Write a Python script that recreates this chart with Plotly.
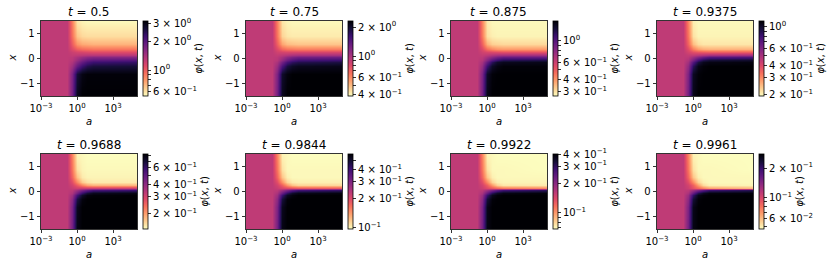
import numpy as np
import plotly.graph_objects as go

W, H = 831, 267

# ---------------- data ----------------
times = ["0.5", "0.75", "0.875", "0.9375", "0.9688", "0.9844", "0.9922", "0.9961"]

# grid nodes: log10(a) columns and x rows
log10_a = [-3, -0.8, -0.4, 0.0, 0.4, 0.8, 1.3, 5]
x_nodes = [-1.5, -0.6, -0.3, -0.15, -0.05, 0.05, 0.15, 0.25, 0.4, 0.6, 0.9, 1.5]

# colour-bar limits of phi for each panel
phi_min = [0.54, 0.385, 0.268, 0.192, 0.137, 0.097, 0.068, 0.047]
phi_max = [3.22, 2.31, 1.61, 1.15, 0.83, 0.585, 0.40, 0.279]

# phi levels (0 = colour-bar bottom, 100 = top, log scale), rows follow x_nodes
level_t1 = [
    [48, 48, 66, 95, 100, 100, 100, 100],
    [48, 48, 64, 90, 97, 99, 99, 99],
    [48, 48, 56, 70, 80, 86, 89, 90],
    [48, 48, 52, 62, 70, 76, 80, 82],
    [48, 48, 50, 57, 64, 69, 72, 74],
    [48, 48, 49, 53, 57, 60, 62, 62],
    [48, 48, 47, 48, 49, 50, 50, 50],
    [48, 48, 45, 43, 42, 41, 40, 40],
    [48, 48, 40, 34, 31, 30, 29, 29],
    [48, 48, 35, 22, 18, 17, 16, 16],
    [48, 48, 30, 12, 8, 7, 7, 7],
    [48, 48, 27, 5, 2, 1, 1, 1],
]
level_t2 = [
    [48, 48, 66, 95, 100, 100, 100, 100],
    [48, 48, 64, 92, 98, 100, 100, 100],
    [48, 48, 57, 76, 88, 93, 95, 96],
    [48, 48, 53, 66, 77, 83, 86, 88],
    [48, 48, 50, 59, 68, 74, 78, 80],
    [48, 48, 49, 54, 60, 64, 67, 68],
    [48, 48, 47, 49, 51, 53, 54, 54],
    [48, 48, 44, 43, 42, 42, 42, 42],
    [48, 48, 40, 32, 29, 28, 27, 27],
    [48, 48, 34, 19, 14, 13, 12, 12],
    [48, 48, 29, 9, 5, 4, 4, 4],
    [48, 48, 27, 5, 2, 1, 1, 1],
]
level_t3 = [
    [48, 48, 66, 96, 100, 100, 100, 100],
    [48, 48, 64, 93, 99, 100, 100, 100],
    [48, 48, 58, 80, 93, 97, 99, 99],
    [48, 48, 54, 70, 84, 92, 95, 96],
    [48, 48, 51, 62, 73, 80, 85, 87],
    [48, 48, 49, 55, 61, 66, 70, 70],
    [48, 48, 47, 49, 52, 54, 55, 55],
    [48, 48, 44, 42, 41, 40, 39, 38],
    [48, 48, 40, 30, 25, 22, 21, 21],
    [48, 48, 34, 16, 10, 9, 8, 8],
    [48, 48, 28, 6, 3, 2, 2, 2],
    [48, 48, 26, 4, 1, 1, 1, 1],
]
level_t4 = [
    [48, 48, 66, 96, 100, 100, 100, 100],
    [48, 48, 64, 94, 99, 100, 100, 100],
    [48, 48, 59, 84, 96, 99, 100, 100],
    [48, 48, 55, 74, 88, 95, 97, 98],
    [48, 48, 52, 65, 78, 86, 90, 92],
    [48, 48, 49, 56, 63, 69, 74, 76],
    [48, 48, 47, 48, 50, 52, 54, 55],
    [48, 48, 43, 39, 37, 36, 35, 35],
    [48, 48, 39, 27, 20, 17, 16, 16],
    [48, 48, 33, 14, 7, 5, 5, 5],
    [48, 48, 29, 6, 2, 2, 2, 2],
    [48, 48, 26, 3, 1, 1, 1, 1],
]
level_t5 = [
    [48, 48, 66, 97, 100, 100, 100, 100],
    [48, 48, 64, 95, 100, 100, 100, 100],
    [48, 48, 60, 88, 98, 100, 100, 100],
    [48, 48, 56, 78, 92, 98, 99, 100],
    [48, 48, 52, 67, 81, 90, 95, 97],
    [48, 48, 49, 56, 64, 71, 77, 80],
    [48, 48, 46, 44, 45, 45, 45, 45],
    [48, 48, 43, 35, 26, 19, 16, 15],
    [48, 48, 39, 24, 11, 6, 4, 4],
    [48, 48, 33, 13, 4, 2, 2, 2],
    [48, 48, 29, 6, 2, 1, 1, 1],
    [48, 48, 26, 2, 1, 0, 0, 0],
]
level_t6 = [
    [48, 48, 66, 97, 100, 100, 100, 100],
    [48, 48, 64, 95, 100, 100, 100, 100],
    [48, 48, 60, 89, 99, 100, 100, 100],
    [48, 48, 56, 80, 94, 98, 100, 100],
    [48, 48, 53, 69, 83, 92, 96, 98],
    [48, 48, 49, 56, 64, 72, 78, 82],
    [48, 48, 46, 42, 40, 38, 36, 35],
    [48, 48, 43, 34, 22, 13, 9, 8],
    [48, 48, 39, 23, 9, 4, 3, 3],
    [48, 48, 33, 12, 3, 1, 1, 1],
    [48, 48, 29, 6, 1, 1, 1, 1],
    [48, 48, 26, 2, 1, 0, 0, 0],
]
level_t7 = [
    [48, 48, 66, 97, 100, 100, 100, 100],
    [48, 48, 64, 96, 100, 100, 100, 100],
    [48, 48, 60, 90, 99, 100, 100, 100],
    [48, 48, 57, 81, 95, 99, 100, 100],
    [48, 48, 53, 70, 85, 93, 97, 99],
    [48, 48, 49, 56, 64, 72, 79, 84],
    [48, 48, 45, 40, 36, 32, 28, 25],
    [48, 48, 43, 34, 21, 10, 5, 4],
    [48, 48, 39, 24, 9, 3, 2, 2],
    [48, 48, 33, 12, 3, 1, 1, 1],
    [48, 48, 29, 6, 1, 1, 1, 0],
    [48, 48, 26, 2, 1, 0, 0, 0],
]
level_t8 = [
    [48, 48, 66, 97, 100, 100, 100, 100],
    [48, 48, 64, 96, 100, 100, 100, 100],
    [48, 48, 60, 90, 99, 100, 100, 100],
    [48, 48, 57, 82, 96, 99, 100, 100],
    [48, 48, 53, 70, 86, 94, 98, 99],
    [48, 48, 49, 56, 64, 72, 80, 85],
    [48, 48, 45, 38, 32, 26, 20, 15],
    [48, 48, 43, 34, 20, 8, 3, 2],
    [48, 48, 39, 24, 9, 3, 1, 1],
    [48, 48, 33, 12, 3, 1, 1, 1],
    [48, 48, 29, 6, 1, 1, 1, 0],
    [48, 48, 26, 2, 1, 0, 0, 0],
]
levels = [level_t1, level_t2, level_t3, level_t4, level_t5, level_t6, level_t7, level_t8]

# colour-bar ticks (value, label); empty label = minor tick
cb_ticks = [
    [0.6, 0.7, 0.8, 0.9, 1, 2, 3],
    [0.4, 0.5, 0.6, 0.7, 0.8, 0.9, 1, 2],
    [0.3, 0.4, 0.5, 0.6, 0.7, 0.8, 0.9, 1],
    [0.2, 0.3, 0.4, 0.5, 0.6, 0.7, 0.8, 0.9, 1],
    [0.2, 0.3, 0.4, 0.5, 0.6, 0.7, 0.8],
    [0.1, 0.2, 0.3, 0.4, 0.5],
    [0.07, 0.08, 0.09, 0.1, 0.2, 0.3, 0.4],
    [0.05, 0.06, 0.07, 0.08, 0.09, 0.1, 0.2],
]
M1 = "<sup>−1</sup>"
M2 = "<sup>−2</sup>"
P0 = "<sup>0</sup>"
cb_labels = [
    ["6 × 10" + M1, "", "", "", "10" + P0, "2 × 10" + P0, "3 × 10" + P0],
    ["4 × 10" + M1, "", "6 × 10" + M1, "", "", "", "10" + P0, "2 × 10" + P0],
    ["3 × 10" + M1, "4 × 10" + M1, "", "6 × 10" + M1, "", "", "", "10" + P0],
    ["2 × 10" + M1, "3 × 10" + M1, "4 × 10" + M1, "", "6 × 10" + M1, "", "", "", "10" + P0],
    ["2 × 10" + M1, "3 × 10" + M1, "4 × 10" + M1, "", "6 × 10" + M1, "", ""],
    ["10" + M1, "2 × 10" + M1, "3 × 10" + M1, "4 × 10" + M1, ""],
    ["", "", "", "10" + M1, "2 × 10" + M1, "3 × 10" + M1, "4 × 10" + M1],
    ["", "6 × 10" + M2, "", "", "", "10" + M1, "2 × 10" + M1],
]

a_tickvals = [-3, 0, 3]
a_ticktext = ["10<sup>−3</sup>", "10<sup>0</sup>", "10<sup>3</sup>"]
x_tickvals = [-1, 0, 1]
x_ticktext = ["−1", "0", "1"]

# ---------------- styling ----------------
magma = ["#000004", "#140e36", "#3b0f70", "#641a80", "#8c2981", "#b73779",
         "#de4968", "#f7705c", "#fe9f6d", "#fecf92", "#fcfdbf"]
magma_r = [[i / 10, c] for i, c in enumerate(magma[::-1])]

FONT = "DejaVu Sans"
col_left = [41, 246, 451, 657]
row_top = [21, 154]
PW, PH = 96, 75

fig = go.Figure()
annotations = []
layout = {}
for i in range(8):
    r, c = divmod(i, 4)
    left, top = col_left[c], row_top[r]
    k = "" if i == 0 else str(i + 1)
    lo, hi = np.log10(phi_min[i]), np.log10(phi_max[i])
    lev = np.array(levels[i], dtype=float) / 100.0
    phi = phi_min[i] * (phi_max[i] / phi_min[i]) ** lev
    z = np.log10(phi)
    fig.add_trace(go.Heatmap(
        x=log10_a, y=x_nodes, z=z, zmin=lo, zmax=hi, zsmooth="best",
        colorscale=magma_r, xaxis="x" + k, yaxis="y" + k, hoverinfo="skip",
        colorbar=dict(
            x=(left + PW + 6) / W, xanchor="left", y=1 - (top + PH / 2) / H,
            yanchor="middle", len=PH / H, lenmode="fraction", thickness=5,
            thicknessmode="pixels", xpad=0, ypad=0, outlinewidth=0.8,
            outlinecolor="black",
            tickvals=list(np.log10(cb_ticks[i])), ticktext=cb_labels[i],
            ticks="outside", ticklen=3, tickwidth=0.8, tickcolor="black",
            tickfont=dict(size=10, family=FONT, color="black"),
            title=dict(text="<i>φ</i>(<i>x</i>, <i>t</i>)", side="right",
                       font=dict(size=10, family=FONT, color="black")),
        ),
    ))
    axis_common = dict(showline=True, mirror=True, linecolor="black", linewidth=0.8,
                       ticks="outside", ticklen=3.5, tickwidth=0.8, tickcolor="black",
                       showgrid=False, zeroline=False,
                       tickfont=dict(size=10, family=FONT, color="black"))
    layout["xaxis" + k] = dict(domain=[left / W, (left + PW) / W], range=[-3, 5],
                               tickvals=a_tickvals, ticktext=a_ticktext,
                               anchor="y" + k, **axis_common)
    layout["yaxis" + k] = dict(domain=[1 - (top + PH) / H, 1 - top / H], range=[-1.5, 1.5],
                               tickvals=x_tickvals, ticktext=x_ticktext,
                               anchor="x" + k, **axis_common)
    annotations.append(dict(text="<i>t</i> = " + times[i], xref="paper", yref="paper",
                            x=(left + PW / 2) / W, y=1 - (top - 9) / H,
                            xanchor="center", yanchor="middle", showarrow=False,
                            font=dict(size=12, family=FONT, color="black")))
    annotations.append(dict(text="<i>a</i>", xref="paper", yref="paper",
                            x=(left + PW / 2) / W, y=1 - (top + PH + 25) / H,
                            xanchor="center", yanchor="middle", showarrow=False,
                            font=dict(size=10, family=FONT, color="black")))
    annotations.append(dict(text="<i>x</i>", xref="paper", yref="paper",
                            x=(left - 29) / W, y=1 - (top + PH / 2) / H,
                            xanchor="center", yanchor="middle", showarrow=False,
                            textangle=-90,
                            font=dict(size=10, family=FONT, color="black")))

fig.update_layout(width=W, height=H,
                  margin=dict(l=0, r=0, t=0, b=0, pad=0, autoexpand=False),
                  paper_bgcolor="white", plot_bgcolor="white",
                  font=dict(family=FONT, size=10, color="black"),
                  showlegend=False, annotations=annotations, **layout)
fig.write_html("out.html", config={"displayModeBar": False, "staticPlot": True},
               post_script="document.body.style.margin='0';document.body.style.overflow='hidden';")
